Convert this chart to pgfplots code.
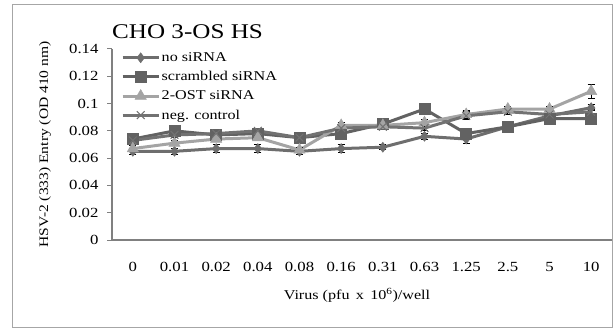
\documentclass[border=0pt]{standalone}
\usepackage{fontspec}
\setmainfont{Liberation Serif}[FakeStretch=1.2]
\usepackage{pgfplots}
\pgfplotsset{compat=1.18}
\definecolor{cA}{HTML}{6E6E6E}
\definecolor{cB}{HTML}{626262}
\definecolor{cC}{HTML}{A4A4A4}
\definecolor{cD}{HTML}{727272}
\begin{document}
\begin{tikzpicture}[x=1bp,y=1bp]
\useasboundingbox (0,0) rectangle (616,330);
\draw[black!35, line width=1bp] (12,2.5) rectangle (612,325);
\node[anchor=west, inner sep=0pt, font=\fontsize{21}{24}\selectfont] at (112,298) {CHO 3-OS HS};
\begin{axis}[
  at={(112bp,90bp)}, anchor=south west,
  width=500bp, height=191bp, scale only axis,
  xmin=-0.5, xmax=11.5, ymin=0, ymax=0.14,
  axis x line*=bottom, axis y line*=left,
  axis line style={black!50, line width=1.5bp, -},
  xtick={0,...,11},
  xticklabels={0,0.01,0.02,0.04,0.08,0.16,0.31,0.63,1.25,2.5,5,10},
  xtick style={draw=none},
  xticklabel style={anchor=center, yshift=-22bp, font=\fontsize{14}{16}\selectfont},
  ytick={0,0.02,0.04,0.06,0.08,0.1,0.12,0.14},
  yticklabels={0,0.02,0.04,0.06,0.08,0.1,0.12,0.14},
  scaled y ticks=false,
  tick align=outside, major tick length=5bp,
  ytick style={black!50, line width=1bp},
  yticklabel style={xshift=-5bp, font=\fontsize{14}{16}\selectfont},
  /pgf/number format/assume math mode=true,
  every axis y label/.style={at={(axis description cs:-0.134,0.5)}, rotate=90, anchor=center, font=\fontsize{13}{15}\selectfont},
  every axis x label/.style={at={(axis description cs:0.49,-0.288)}, anchor=center, font=\fontsize{13.5}{16}\selectfont},
  ylabel={HSV-2 (333) Entry (OD 410 nm)},
  xlabel={Virus (pfu\, x\, 10\textsuperscript{6})/well},
  legend style={at={(rel axis cs:0.018,0.99)}, anchor=north west, draw=none, fill=none,
     font=\fontsize{13.5}{16}\selectfont, row sep=5.5bp, inner sep=0pt,
     nodes={inner sep=1.5bp}},
  legend cell align=left,
  legend image code/.code={\draw[mark repeat=2, mark phase=2] plot coordinates {(0bp,0bp) (18bp,0bp) (36bp,0bp)};},
  clip=false,
  every axis plot/.append style={line width=3bp,
     error bars/y dir=both, error bars/y explicit,
     error bars/error bar style={black, line width=1bp},
     error bars/error mark options={rotate=90, black, mark size=3.5bp, line width=1bp}},
]
\addplot[cA, mark=diamond*, mark size=5bp, mark options={solid, fill=cA, draw=cA, line width=0.5bp}]
  table[x=x, y=y, y error=e] {
x y e
0 0.065 0.002
1 0.065 0.002
2 0.067 0.003
3 0.067 0.003
4 0.065 0.002
5 0.067 0.003
6 0.068 0.002
7 0.076 0.002
8 0.074 0.003
9 0.083 0.002
10 0.091 0.002
11 0.097 0.002
};
\addlegendentry{no siRNA}
\addplot[cB, mark=square*, mark size=5.5bp, mark options={solid, fill=cB, draw=cB, line width=0.5bp}]
  table[x=x, y=y, y error=e] {
x y e
0 0.074 0.002
1 0.080 0.002
2 0.077 0.002
3 0.078 0.002
4 0.075 0.002
5 0.078 0.003
6 0.085 0.002
7 0.096 0.002
8 0.078 0.003
9 0.083 0.003
10 0.089 0.003
11 0.089 0.003
};
\addlegendentry{scrambled siRNA}
\addplot[cC, mark=triangle*, mark size=6.5bp, mark options={solid, fill=cC, draw=cC, line width=0.5bp}]
  table[x=x, y=y, y error=e] {
x y e
0 0.067 0.002
1 0.071 0.002
2 0.074 0.002
3 0.075 0.002
4 0.066 0.002
5 0.084 0.002
6 0.084 0.002
7 0.086 0.002
8 0.092 0.003
9 0.096 0.002
10 0.096 0.002
11 0.109 0.005
};
\addlegendentry{2-OST siRNA}
\addplot[cD, mark=x, mark size=5.5bp, mark options={solid, draw=cD, line width=1bp}]
  table[x=x, y=y, y error=e] {
x y e
0 0.073 0.002
1 0.077 0.002
2 0.078 0.002
3 0.080 0.002
4 0.075 0.002
5 0.082 0.003
6 0.083 0.002
7 0.082 0.002
8 0.091 0.003
9 0.094 0.002
10 0.092 0.002
11 0.094 0.002
};
\addlegendentry{neg. control}
\end{axis}
\end{tikzpicture}
\end{document}
